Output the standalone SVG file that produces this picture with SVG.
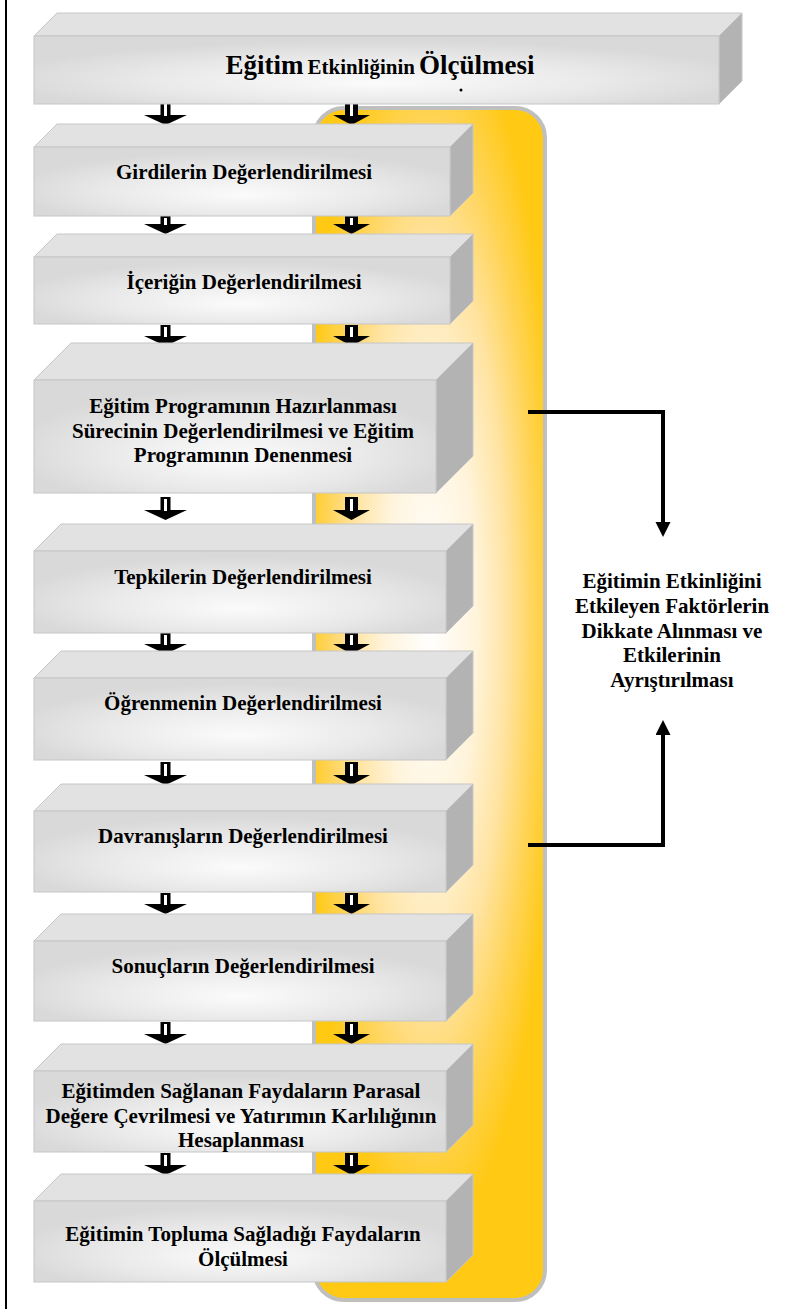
<svg xmlns="http://www.w3.org/2000/svg" width="794" height="1309" viewBox="0 0 794 1309">
<defs>
<radialGradient id="panelGrad" gradientUnits="userSpaceOnUse" cx="430" cy="620" r="620" gradientTransform="translate(430 620) scale(0.21 1) translate(-430 -620)">
<stop offset="0" stop-color="#ffffff"/>
<stop offset="0.35" stop-color="#fff4dc"/>
<stop offset="0.6" stop-color="#ffe3a0"/>
<stop offset="0.8" stop-color="#ffd457"/>
<stop offset="1" stop-color="#ffc914"/>
</radialGradient>
<radialGradient id="frontGrad" cx="0.5" cy="0.62" r="0.55" fx="0.5" fy="0.7">
<stop offset="0" stop-color="#fbfbfb"/>
<stop offset="0.6" stop-color="#e9e9e9"/>
<stop offset="1" stop-color="#d9d9d9"/>
</radialGradient>
<marker id="ah" markerUnits="userSpaceOnUse" markerWidth="16" markerHeight="16" refX="5" refY="7.5" orient="auto">
<path d="M0,0 L15,7.5 L0,15 Z" fill="#000"/>
</marker>
</defs>
<style>
.top{fill:#e2e2e2;stroke:#c6c6c6;stroke-width:1}
.front{fill:url(#frontGrad);stroke:#c6c6c6;stroke-width:1}
.side{fill:#b3b3b3;stroke:#c6c6c6;stroke-width:1}
.t{font-family:"Liberation Serif","Times New Roman",serif;font-weight:bold;font-size:21px;fill:#000;text-anchor:middle}
.arr{fill:#000}
.gap{fill:#fff}
.conn{fill:none;stroke:#000;stroke-width:4}
</style>
<rect x="5" y="0" width="2" height="1309" fill="#000"/>
<g id="panel">
<rect x="314" y="108" width="231" height="1192" rx="30" ry="30" fill="url(#panelGrad)" stroke="#bfbfbf" stroke-width="4"/>
</g>
<g id="arrows">
<!-- row 1 -->
<path class="arr" d="M160.5,102 H170.5 V115 H187 L165.5,125 L144,115 H160.5 Z"/><rect class="gap" x="164" y="104" width="3" height="12"/>
<path class="arr" d="M345,102 H358 V115 H370 L351.5,125 L333,115 H345 Z"/><rect class="gap" x="350" y="104" width="3" height="12"/>
<!-- row 2 -->
<path class="arr" d="M160.5,216 H170.5 V224 H187 L165.5,234 L144,224 H160.5 Z"/><rect class="gap" x="164" y="218" width="3" height="7"/>
<path class="arr" d="M345,216 H358 V224 H370 L351.5,234 L333,224 H345 Z"/><rect class="gap" x="350" y="218" width="3" height="7"/>
<!-- row 3 -->
<path class="arr" d="M160.5,325 H170.5 V336 H187 L165.5,346 L144,336 H160.5 Z"/><rect class="gap" x="164" y="327" width="3" height="10"/>
<path class="arr" d="M345,325 H358 V336 H370 L351.5,346 L333,336 H345 Z"/><rect class="gap" x="350" y="327" width="3" height="10"/>
<!-- row 4 -->
<path class="arr" d="M160.5,497 H170.5 V510 H187 L165.5,520 L144,510 H160.5 Z"/><rect class="gap" x="164" y="499" width="3" height="12"/>
<path class="arr" d="M345,497 H358 V510 H370 L351.5,520 L333,510 H345 Z"/><rect class="gap" x="350" y="499" width="3" height="12"/>
<!-- row 5 -->
<path class="arr" d="M160.5,633 H170.5 V644 H187 L165.5,654 L144,644 H160.5 Z"/><rect class="gap" x="164" y="635" width="3" height="10"/>
<path class="arr" d="M345,633 H358 V644 H370 L351.5,654 L333,644 H345 Z"/><rect class="gap" x="350" y="635" width="3" height="10"/>
<!-- row 6 -->
<path class="arr" d="M160.5,762 H170.5 V775 H187 L165.5,785 L144,775 H160.5 Z"/><rect class="gap" x="164" y="764" width="3" height="12"/>
<path class="arr" d="M345,762 H358 V775 H370 L351.5,785 L333,775 H345 Z"/><rect class="gap" x="350" y="764" width="3" height="12"/>
<!-- row 7 -->
<path class="arr" d="M160.5,893 H170.5 V904 H187 L165.5,914 L144,904 H160.5 Z"/><rect class="gap" x="164" y="895" width="3" height="10"/>
<path class="arr" d="M345,893 H358 V904 H370 L351.5,914 L333,904 H345 Z"/><rect class="gap" x="350" y="895" width="3" height="10"/>
<!-- row 8 -->
<path class="arr" d="M160.5,1022 H170.5 V1034 H187 L165.5,1044 L144,1034 H160.5 Z"/><rect class="gap" x="164" y="1024" width="3" height="11"/>
<path class="arr" d="M345,1022 H358 V1034 H370 L351.5,1044 L333,1034 H345 Z"/><rect class="gap" x="350" y="1024" width="3" height="11"/>
<!-- row 9 -->
<path class="arr" d="M160.5,1153 H170.5 V1165 H187 L165.5,1175 L144,1165 H160.5 Z"/><rect class="gap" x="164" y="1155" width="3" height="11"/>
<path class="arr" d="M345,1153 H358 V1165 H370 L351.5,1175 L333,1165 H345 Z"/><rect class="gap" x="350" y="1155" width="3" height="11"/>
</g>
<g id="box-top">
<polygon class="top" points="34,36 57,13 742,13 719,36"/>
<polygon class="side" points="719,36 742,13 742,81 719,104"/>
<rect class="front" x="34" y="36" width="685" height="68"/>
<text x="380" y="74" font-family="Liberation Serif, Times New Roman, serif" font-weight="bold" text-anchor="middle" fill="#000"><tspan font-size="27">Eğitim</tspan> <tspan font-size="21">Etkinliğinin</tspan> <tspan font-size="27">Ölçülmesi</tspan></text>
<circle cx="461" cy="90" r="1.5" fill="#000"/>
</g>
<g id="box-girdiler">
<polygon class="top" points="34,147 57,124 473,124 450,147"/>
<polygon class="side" points="450,147 473,124 473,193 450,216"/>
<rect class="front" x="34" y="147" width="416" height="69"/>
<text class="t" x="244" y="179">Girdilerin Değerlendirilmesi</text>
</g>
<g id="box-icerik">
<polygon class="top" points="34,257 57,234 473,234 450,257"/>
<polygon class="side" points="450,257 473,234 473,301 450,324"/>
<rect class="front" x="34" y="257" width="416" height="67"/>
<text class="t" x="244" y="289">İçeriğin Değerlendirilmesi</text>
</g>
<g id="box-program">
<polygon class="top" points="34,380 71,343 473,343 436,380"/>
<polygon class="side" points="436,380 473,343 473,456 436,493"/>
<rect class="front" x="34" y="380" width="402" height="113"/>
<text class="t" x="243" y="413"><tspan x="243">Eğitim Programının Hazırlanması</tspan><tspan x="243" dy="24.5">Sürecinin Değerlendirilmesi ve Eğitim</tspan><tspan x="243" dy="24.5">Programının Denenmesi</tspan></text>
</g>
<g id="box-tepki">
<polygon class="top" points="34,551 61,524 473,524 446,551"/>
<polygon class="side" points="446,551 473,524 473,606 446,633"/>
<rect class="front" x="34" y="551" width="412" height="82"/>
<text class="t" x="243" y="584">Tepkilerin Değerlendirilmesi</text>
</g>
<g id="box-ogrenme">
<polygon class="top" points="34,678 61,651 473,651 446,678"/>
<polygon class="side" points="446,678 473,651 473,733 446,760"/>
<rect class="front" x="34" y="678" width="412" height="82"/>
<text class="t" x="243" y="710">Öğrenmenin Değerlendirilmesi</text>
</g>
<g id="box-davranis">
<polygon class="top" points="34,811 61,784 473,784 446,811"/>
<polygon class="side" points="446,811 473,784 473,865 446,892"/>
<rect class="front" x="34" y="811" width="412" height="81"/>
<text class="t" x="243" y="843">Davranışların Değerlendirilmesi</text>
</g>
<g id="box-sonuc">
<polygon class="top" points="34,941 61,914 473,914 446,941"/>
<polygon class="side" points="446,941 473,914 473,994 446,1021"/>
<rect class="front" x="34" y="941" width="412" height="80"/>
<text class="t" x="243" y="973">Sonuçların Değerlendirilmesi</text>
</g>
<g id="box-parasal">
<polygon class="top" points="34,1071 61,1044 473,1044 446,1071"/>
<polygon class="side" points="446,1071 473,1044 473,1125 446,1152"/>
<rect class="front" x="34" y="1071" width="412" height="81"/>
<text class="t" x="241" y="1098"><tspan x="241">Eğitimden Sağlanan Faydaların Parasal</tspan><tspan x="241" dy="24.5">Değere Çevrilmesi ve Yatırımın Karlılığının</tspan><tspan x="241" dy="24.5">Hesaplanması</tspan></text>
</g>
<g id="box-toplum">
<polygon class="top" points="34,1201 61,1174 473,1174 446,1201"/>
<polygon class="side" points="446,1201 473,1174 473,1255 446,1282"/>
<rect class="front" x="34" y="1201" width="412" height="81"/>
<text class="t" x="243" y="1241"><tspan x="243">Eğitimin Topluma Sağladığı Faydaların</tspan><tspan x="243" dy="25">Ölçülmesi</tspan></text>
</g>
<g id="connectors">
<path class="conn" d="M528,412 H663 V527" marker-end="url(#ah)"/>
<path class="conn" d="M528,845 H663 V730" marker-end="url(#ah)"/>
</g>
<g id="factors">
<text class="t" x="672" y="588"><tspan x="672">Eğitimin Etkinliğini</tspan><tspan x="672" dy="24.8">Etkileyen Faktörlerin</tspan><tspan x="672" dy="24.8">Dikkate Alınması ve</tspan><tspan x="672" dy="24.8">Etkilerinin</tspan><tspan x="672" dy="24.8">Ayrıştırılması</tspan></text>
</g>
</svg>
